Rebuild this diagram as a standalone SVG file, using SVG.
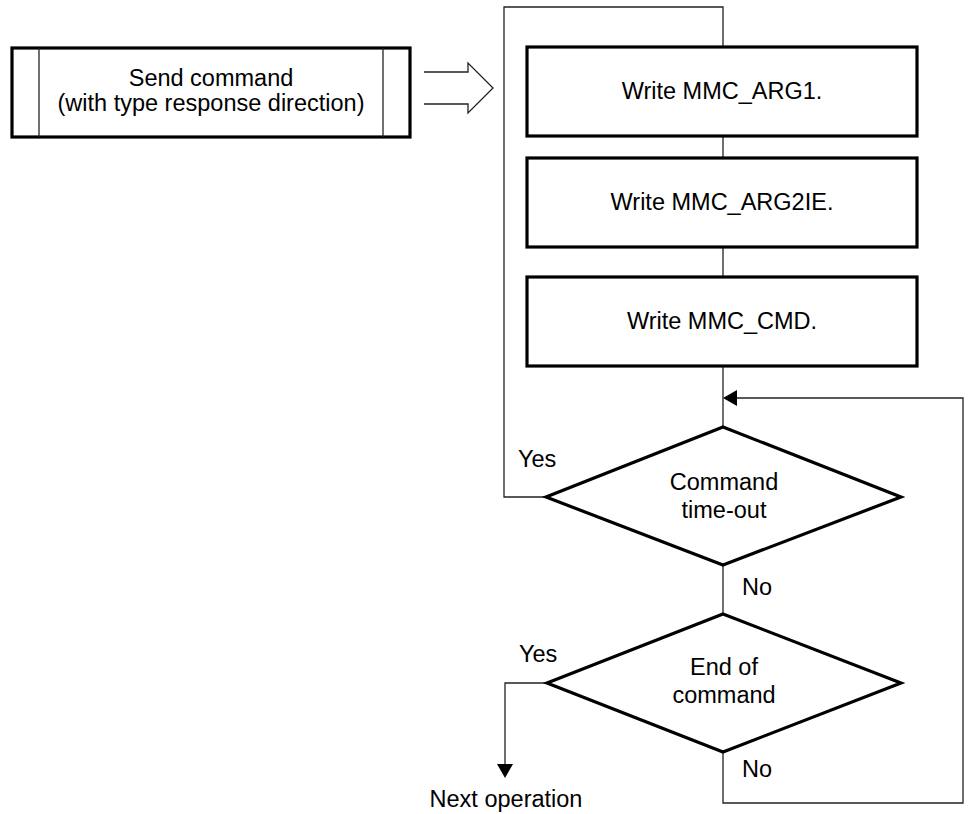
<svg xmlns="http://www.w3.org/2000/svg" width="968" height="814" viewBox="0 0 968 814">
<style>
text{font-family:"Liberation Sans",Arial,sans-serif;font-size:23.5px;fill:#000}
.c{text-anchor:middle}
.box{fill:#fff;stroke:#000;stroke-width:3.2}
.thin{fill:none;stroke:#222;stroke-width:1.3}
</style>
<rect width="968" height="814" fill="#fff"/>
<g id="connectors">
<polyline class="thin" points="546,497 504,497 504,7 723,7 723,47"/>
<line class="thin" x1="723" y1="136" x2="723" y2="158"/>
<line class="thin" x1="723" y1="247" x2="723" y2="277"/>
<line class="thin" x1="723" y1="366" x2="723" y2="427"/>
<line class="thin" x1="723" y1="565" x2="723" y2="614"/>
<polyline class="thin" points="723,752 723,803 963,803 963,398 735,398"/>
<polygon points="723,398 737,390 737,406" fill="#000"/>
<polyline class="thin" points="547,683 505,683 505,766"/>
<polygon points="505,778 497,764 513,764" fill="#000"/>
<polyline class="thin" points="424,72 468,72 468,63 493,88 468,113 468,104 424,104"/>
</g>
<g id="send">
<rect class="box" x="12" y="48" width="398" height="89"/>
<line x1="39" y1="48" x2="39" y2="137" stroke="#222" stroke-width="1.3"/>
<line x1="383" y1="48" x2="383" y2="137" stroke="#222" stroke-width="1.3"/>
<text class="c" x="211" y="86">Send command</text>
<text class="c" x="211" y="111">(with type response direction)</text>
</g>
<g id="arg1">
<rect class="box" x="527" y="47" width="390" height="89"/>
<text class="c" x="722" y="99">Write MMC_ARG1.</text>
</g>
<g id="arg2">
<rect class="box" x="527" y="158" width="390" height="89"/>
<text class="c" x="722" y="210">Write MMC_ARG2IE.</text>
</g>
<g id="cmd">
<rect class="box" x="527" y="277" width="390" height="89"/>
<text class="c" x="722" y="329">Write MMC_CMD.</text>
</g>
<g id="timeout">
<polygon class="box" points="723,427 901,497 723,565 546,497"/>
<text class="c" x="724" y="490">Command</text>
<text class="c" x="724" y="518">time-out</text>
<text x="518" y="467">Yes</text>
<text x="742" y="595">No</text>
</g>
<g id="endcmd">
<polygon class="box" points="723,614 901,683 723,752 547,683"/>
<text class="c" x="724" y="675">End of</text>
<text class="c" x="724" y="703">command</text>
<text x="519" y="662">Yes</text>
<text x="742" y="777">No</text>
</g>
<g id="next">
<text class="c" x="506" y="807">Next operation</text>
</g>
</svg>
